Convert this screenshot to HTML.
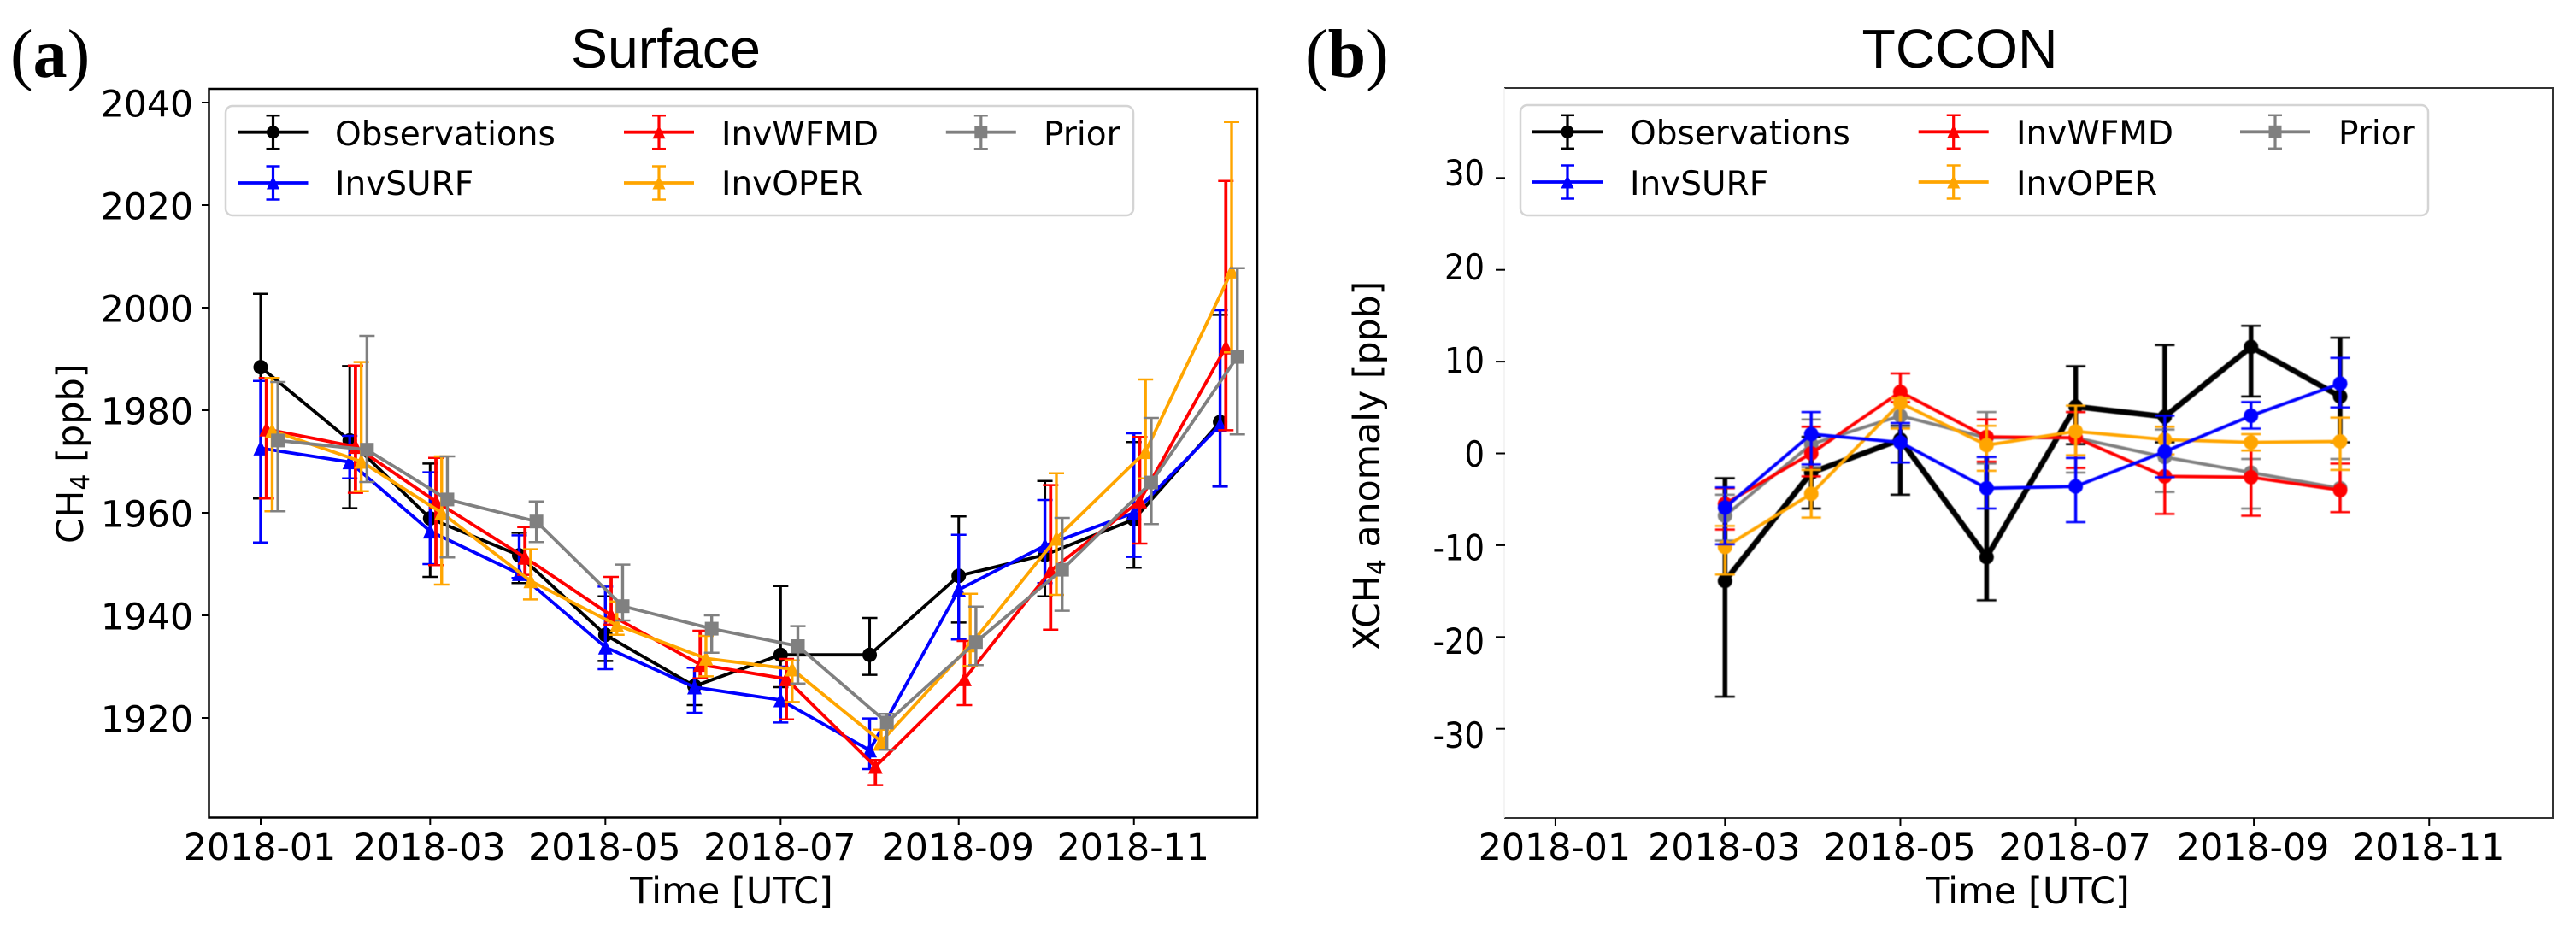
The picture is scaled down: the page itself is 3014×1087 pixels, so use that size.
<!DOCTYPE html>
<html lang="en">
<head>
<meta charset="utf-8">
<title>Surface and TCCON methane comparison</title>
<style>
  html, body { margin: 0; padding: 0; background: #fff; }
  body { width: 3014px; height: 1087px; overflow: hidden; }
  svg { display: block; }
  text { font-family: "DejaVu Sans", "Liberation Sans", sans-serif; fill: #000; }
  .soft { filter: blur(0.5px); }
</style>
</head>
<body>
<svg id="figure" width="3014" height="1087" viewBox="0 0 3014 1087" xmlns="http://www.w3.org/2000/svg">
  <rect x="0" y="0" width="3014" height="1087" fill="#fff"/>

  <text x="12" y="90" style="font-family:'Liberation Serif',serif" font-size="80">(<tspan font-weight="bold">a</tspan>)</text>
  <text x="1527" y="90" style="font-family:'Liberation Serif',serif" font-size="80">(<tspan font-weight="bold">b</tspan>)</text>

  <text x="779" y="79" text-anchor="middle" style="font-family:'Liberation Sans',sans-serif" font-size="64.4">Surface</text>
  <text x="2293" y="79" text-anchor="middle" style="font-family:'Liberation Sans',sans-serif" font-size="64.4">TCCON</text>

  <g id="panelA">
    <rect x="244.5" y="104" width="1226.5" height="852.5" fill="none" stroke="#000" stroke-width="2.5"/>
    <g id="axisA"></g>
    <g id="marksA"></g>
    <rect x="264" y="124" width="1062" height="128" rx="8" ry="8" fill="#fff" fill-opacity="0.8" stroke="#d4d4d4" stroke-width="2.5"/>
    <g id="legendA"></g>
    <text x="392" y="170" font-size="39">Observations</text>
    <text x="392" y="228" font-size="39">InvSURF</text>
    <text x="844" y="170" font-size="39">InvWFMD</text>
    <text x="844" y="228" font-size="39">InvOPER</text>
    <text x="1221" y="170" font-size="39">Prior</text>
    <text x="856" y="1057" text-anchor="middle" font-size="43">Time [UTC]</text>
    <text transform="translate(97 636) rotate(-90)" font-size="43">CH<tspan font-size="30" dy="7">4</tspan><tspan dy="-7"> [ppb]</tspan></text>
  </g>

  <g id="panelB">
    <path d="M1760 103H2987V957H1760" fill="none" stroke="#333" stroke-width="2"/>
    <line x1="1760" y1="103" x2="1760" y2="957" stroke="#f0f0f0" stroke-width="1.5"/>
    <g id="axisB"></g>
    <g id="marksB" class="soft"></g>
    <rect x="1779" y="123" width="1062" height="129" rx="8" ry="8" fill="#fff" fill-opacity="0.8" stroke="#d4d4d4" stroke-width="2.5"/>
    <g id="legendB"></g>
    <text x="1907" y="169" font-size="39">Observations</text>
    <text x="1907" y="228" font-size="39">InvSURF</text>
    <text x="2359" y="169" font-size="39">InvWFMD</text>
    <text x="2359" y="228" font-size="39">InvOPER</text>
    <text x="2736" y="169" font-size="39">Prior</text>
    <text x="2373" y="1057" text-anchor="middle" font-size="43">Time [UTC]</text>
    <text transform="translate(1614 761) rotate(-90)" font-size="42.6">XCH<tspan font-size="30" dy="7">4</tspan><tspan dy="-7"> anomaly [ppb]</tspan></text>
  </g>
</svg>

<script>
// ---------- Shared axis data ----------
const xTickDays = [0, 59, 120, 181, 243, 304];
const xTickLabels = ['2018-01', '2018-03', '2018-05', '2018-07', '2018-09', '2018-11'];

// ---------- Surface panel data (ppb) ----------
const surfaceTicks = [1920, 1940, 1960, 1980, 2000, 2020, 2040];
const surfaceDays = [0, 31, 59, 90, 120, 151, 181, 212, 243, 273, 304, 334];
const surfaceObs = [1988.4, 1974.1, 1958.9, 1951.7, 1936.2, 1926.2, 1932.3, 1932.3, 1947.7, 1951.8, 1958.7, 1977.7];
const surfaceObsLo = [1962.8, 1960.9, 1947.5, 1946.3, 1931.1, 1922.5, 1926.0, 1928.4, 1938.6, 1943.7, 1949.3, 1965.3];
const surfaceObsHi = [2002.7, 1988.6, 1969.6, 1956.1, 1943.7, 1929.8, 1945.7, 1939.5, 1959.3, 1966.2, 1973.8, 1998.6];
const surfaceSurf = [1972.6, 1969.9, 1956.4, 1948.1, 1933.8, 1926.0, 1923.5, 1913.7, 1945.0, 1953.6, 1960.0, 1977.1];
const surfaceSurfLo = [1954.2, 1966.7, 1950.0, 1947.3, 1929.5, 1921.0, 1919.1, 1910.0, 1935.3, 1946.3, 1951.4, 1965.1];
const surfaceSurfHi = [1985.7, 1975.0, 1967.9, 1955.6, 1945.6, 1929.8, 1930.0, 1919.9, 1955.7, 1962.5, 1975.5, 1999.5];
const surfaceWfmd = [1976.3, 1972.9, 1962.2, 1951.3, 1940.0, 1930.4, 1927.6, 1910.5, 1927.6, 1948.7, 1962.3, 1992.3];
const surfaceWfmdLo = [1962.8, 1963.9, 1949.8, 1947.9, 1938.2, 1927.7, 1919.7, 1906.9, 1922.5, 1937.2, 1954.0, 1976.1];
const surfaceWfmdHi = [1986.3, 1988.7, 1970.7, 1957.2, 1947.5, 1937.0, 1931.5, 1911.8, 1935.0, 1965.4, 1974.8, 2024.7];
const surfaceOper = [1976.0, 1970.0, 1960.0, 1946.7, 1938.1, 1931.6, 1929.5, 1915.4, 1934.2, 1955.0, 1971.9, 2007.1];
const surfaceOperLo = [1960.3, 1964.2, 1946.0, 1943.1, 1936.2, 1928.1, 1923.1, 1913.8, 1930.1, 1944.0, 1966.7, 1991.3];
const surfaceOperHi = [1986.3, 1989.4, 1971.0, 1952.9, 1942.7, 1936.0, 1931.2, 1917.7, 1944.2, 1967.7, 1986.0, 2036.2];
const surfacePrior = [1974.1, 1972.3, 1962.6, 1958.3, 1941.8, 1937.4, 1934.0, 1919.1, 1934.8, 1948.9, 1965.9, 1990.4];
const surfacePriorLo = [1960.3, 1966.0, 1951.3, 1954.3, 1939.0, 1932.7, 1926.7, 1913.8, 1930.3, 1940.9, 1957.8, 1975.3];
const surfacePriorHi = [1985.5, 1994.5, 1971.0, 1962.2, 1949.9, 1940.0, 1937.9, 1920.8, 1941.7, 1959.0, 1978.5, 2007.7];

// ---------- TCCON panel data (ppb anomaly) ----------
const tcconTicks = [-30, -20, -10, 0, 10, 20, 30];
const tcconDays = [59, 89, 120, 150, 181, 212, 242, 273];
const tcconObs = [-13.9, -2.1, 1.5, -11.3, 5.1, 4.0, 11.6, 6.2];
const tcconObsLo = [-26.5, -6.0, -4.5, -16.0, 1.0, 1.2, 6.2, 1.2];
const tcconObsHi = [-2.7, 1.8, 3.0, -0.4, 9.5, 11.8, 13.9, 12.6];
const tcconPrior = [-6.8, 1.0, 4.1, 1.7, 1.7, -0.4, -2.1, -3.8];
const tcconPriorLo = [-9.5, -1.5, 2.9, -1.1, -2.1, -4.2, -6.0, -6.4];
const tcconPriorHi = [-4.5, 3.7, 6.0, 4.5, 4.5, 2.6, -0.6, -0.6];
const tcconWfmd = [-5.5, 0.0, 6.7, 1.8, 1.7, -2.5, -2.6, -4.0];
const tcconWfmdLo = [-8.3, -2.5, 5.6, -0.9, -1.6, -6.6, -6.8, -6.4];
const tcconWfmdHi = [-3.8, 2.9, 8.7, 3.7, 4.5, 1.5, 1.2, -1.1];
const tcconOper = [-10.2, -4.4, 5.5, 0.9, 2.4, 1.5, 1.2, 1.3];
const tcconOperLo = [-13.2, -7.0, 2.7, -1.9, -0.2, -0.1, 0.3, -1.8];
const tcconOperHi = [-7.9, -1.8, 6.0, 3.0, 5.2, 2.9, 2.1, 3.9];
const tcconSurf = [-5.9, 2.1, 1.2, -3.8, -3.6, 0.2, 4.1, 7.6];
const tcconSurfLo = [-9.9, -1.2, -1.0, -6.0, -7.5, -2.6, 2.7, 5.0];
const tcconSurfHi = [-3.7, 4.5, 3.3, -0.4, -0.5, 4.1, 5.6, 10.4];

// ---------- Axis functions ----------
function xSurface(day) { return 305 + 3.361 * day; }
function ySurface(v) { return 120 + (2040 - v) * 6; }
function xTccon(day) { return 1819.9 + 3.363 * day; }
function yTccon(v) { return 530.5 - 10.74 * v; }
function yTcconLabel(v) { return 546 - 10.96 * v; }

const NS = 'http://www.w3.org/2000/svg';
function make(parent, tag, attrs) {
  const el = document.createElementNS(NS, tag);
  for (const k in attrs) el.setAttribute(k, attrs[k]);
  parent.appendChild(el);
  return el;
}

function drawMarker(parent, kind, cx, cy, color, r) {
  let el;
  if (kind === 'circle') {
    el = make(parent, 'circle', { cx: cx, cy: cy, r: r, fill: color });
  } else if (kind === 'triangle') {
    el = make(parent, 'polygon', {
      points: (cx) + ',' + (cy - r * 1.1) + ' ' + (cx - r) + ',' + (cy + r) + ' ' + (cx + r) + ',' + (cy + r),
      fill: color
    });
  } else {
    el = make(parent, 'rect', { x: cx - r, y: cy - r, width: 2 * r, height: 2 * r, fill: color });
  }
  
  
  return el;
}

function drawSeries(parent, name, xFn, yFn, days, offset, values, lows, highs, color, kind, lineW, barW, capHalf, r) {
  const g = make(parent, 'g', {});
  
  
  days.forEach(function (d, i) {
    const x = xFn(d + offset);
    const bar = make(g, 'line', { x1: x, x2: x, y1: yFn(lows[i]), y2: yFn(highs[i]), stroke: color, 'stroke-width': barW });
    
    
    const capLo = make(g, 'line', { x1: x - capHalf, x2: x + capHalf, y1: yFn(lows[i]), y2: yFn(lows[i]), stroke: color, 'stroke-width': 2.5 });
    
    
    const capHi = make(g, 'line', { x1: x - capHalf, x2: x + capHalf, y1: yFn(highs[i]), y2: yFn(highs[i]), stroke: color, 'stroke-width': 2.5 });
    
    
  });
  const pts = days.map(function (d, i) { return xFn(d + offset) + ',' + yFn(values[i]); }).join(' ');
  const line = make(g, 'polyline', { points: pts, fill: 'none', stroke: color, 'stroke-width': lineW, 'stroke-linejoin': 'round' });
  
  
  days.forEach(function (d, i) {
    drawMarker(g, kind, xFn(d + offset), yFn(values[i]), color, r);
  });
}

function drawHandle(parent, name, cx, cy, color, kind, r) {
  const g = make(parent, 'g', {});
  
  
  make(g, 'line', { x1: cx - 41, x2: cx + 41, y1: cy, y2: cy, stroke: color, 'stroke-width': 3.8 });
  make(g, 'line', { x1: cx, x2: cx, y1: cy - 19.5, y2: cy + 19.5, stroke: color, 'stroke-width': 3.2 });
  make(g, 'line', { x1: cx - 8, x2: cx + 8, y1: cy - 19.5, y2: cy - 19.5, stroke: color, 'stroke-width': 2.5 });
  make(g, 'line', { x1: cx - 8, x2: cx + 8, y1: cy + 19.5, y2: cy + 19.5, stroke: color, 'stroke-width': 2.5 });
  drawMarker(g, kind, cx, cy, color, r);
}

function drawAxes() {
  const a = document.getElementById('axisA');
  surfaceTicks.forEach(function (v) {
    const tick = make(a, 'line', { x1: 236, x2: 244, y1: ySurface(v), y2: ySurface(v), stroke: '#000', 'stroke-width': 2 });
    
    
    const label = make(a, 'text', { x: 226, y: ySurface(v) + 16.5, 'text-anchor': 'end', 'font-size': 42.5 });
    label.textContent = String(v);
    
    
  });
  xTickDays.forEach(function (d, i) {
    const tick = make(a, 'line', { x1: xSurface(d), x2: xSurface(d), y1: 957, y2: 965, stroke: '#000', 'stroke-width': 2 });
    
    
    const label = make(a, 'text', { x: xSurface(d) - 1, y: 1006, 'text-anchor': 'middle', 'font-size': 42.7 });
    label.textContent = xTickLabels[i];
    
    
  });

  const b = document.getElementById('axisB');
  tcconTicks.forEach(function (v) {
    const tick = make(b, 'line', { x1: 1750, x2: 1761, y1: yTccon(v), y2: yTccon(v), stroke: '#000', 'stroke-width': 2 });
    
    
    const label = make(b, 'text', {
      transform: 'translate(1737 ' + yTcconLabel(v) + ') scale(0.88 1)',
      'text-anchor': 'end', 'font-size': 42
    });
    label.textContent = String(v);
    
    
  });
  xTickDays.forEach(function (d, i) {
    const tick = make(b, 'line', { x1: xTccon(d), x2: xTccon(d), y1: 957, y2: 966, stroke: '#000', 'stroke-width': 2 });
    
    
    const label = make(b, 'text', { x: xTccon(d) - 1, y: 1006, 'text-anchor': 'middle', 'font-size': 42.7 });
    label.textContent = xTickLabels[i];
    
    
  });
}

drawAxes();

const marksA = document.getElementById('marksA');
drawSeries(marksA, 'observations', xSurface, ySurface, surfaceDays, 0, surfaceObs, surfaceObsLo, surfaceObsHi, '#000', 'circle', 3.8, 3, 9, 8.5);
drawSeries(marksA, 'invsurf', xSurface, ySurface, surfaceDays, 0, surfaceSurf, surfaceSurfLo, surfaceSurfHi, '#00f', 'triangle', 3.8, 3.4, 9, 8.5);
drawSeries(marksA, 'invwfmd', xSurface, ySurface, surfaceDays, 2, surfaceWfmd, surfaceWfmdLo, surfaceWfmdHi, '#f00', 'triangle', 3.8, 3.8, 9, 8.5);
drawSeries(marksA, 'invoper', xSurface, ySurface, surfaceDays, 4, surfaceOper, surfaceOperLo, surfaceOperHi, '#ffa500', 'triangle', 3.8, 3.4, 9, 8.5);
drawSeries(marksA, 'prior', xSurface, ySurface, surfaceDays, 6, surfacePrior, surfacePriorLo, surfacePriorHi, '#808080', 'square', 3.8, 3.4, 9, 8);

const marksB = document.getElementById('marksB');
drawSeries(marksB, 'observations', xTccon, yTccon, tcconDays, 0, tcconObs, tcconObsLo, tcconObsHi, '#000', 'circle', 6.5, 5.5, 11.5, 8.5);
drawSeries(marksB, 'prior', xTccon, yTccon, tcconDays, 0, tcconPrior, tcconPriorLo, tcconPriorHi, '#808080', 'circle', 3.8, 3.4, 11.5, 8.5);
drawSeries(marksB, 'invwfmd', xTccon, yTccon, tcconDays, 0, tcconWfmd, tcconWfmdLo, tcconWfmdHi, '#f00', 'circle', 3.8, 3.4, 11.5, 8.5);
drawSeries(marksB, 'invoper', xTccon, yTccon, tcconDays, 0, tcconOper, tcconOperLo, tcconOperHi, '#ffa500', 'circle', 3.8, 3.4, 11.5, 8.5);
drawSeries(marksB, 'invsurf', xTccon, yTccon, tcconDays, 0, tcconSurf, tcconSurfLo, tcconSurfHi, '#00f', 'circle', 3.8, 3.4, 11.5, 8.5);

const legendA = document.getElementById('legendA');
drawHandle(legendA, 'observations', 319.5, 154.7, '#000', 'circle', 7.5);
drawHandle(legendA, 'invsurf', 319.5, 214, '#00f', 'triangle', 7.5);
drawHandle(legendA, 'invwfmd', 771, 154.7, '#f00', 'triangle', 7.5);
drawHandle(legendA, 'invoper', 771, 214, '#ffa500', 'triangle', 7.5);
drawHandle(legendA, 'prior', 1147.8, 154.7, '#808080', 'square', 7.5);

const legendB = document.getElementById('legendB');
drawHandle(legendB, 'observations', 1834, 154.3, '#000', 'circle', 7.5);
drawHandle(legendB, 'invsurf', 1834, 213, '#00f', 'triangle', 7.5);
drawHandle(legendB, 'invwfmd', 2285.7, 154.3, '#f00', 'triangle', 7.5);
drawHandle(legendB, 'invoper', 2285.7, 213, '#ffa500', 'triangle', 7.5);
drawHandle(legendB, 'prior', 2662, 154.3, '#808080', 'square', 7.5);
</script>
</body>
</html>
